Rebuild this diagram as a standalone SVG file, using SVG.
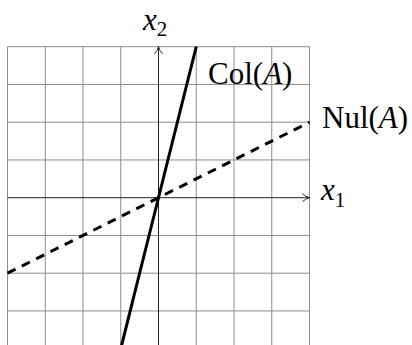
<svg xmlns="http://www.w3.org/2000/svg" width="412" height="345" viewBox="0 0 412 345">
<style>
.grid line{stroke:#8c8c8c;stroke-width:1}
.axis{stroke:#222;stroke-width:1;fill:none}
.lbl{font-family:"Liberation Serif",serif;fill:#000}
.it{font-style:italic}
</style>
<defs>
<marker id="tip" viewBox="0 0 10 10" refX="9" refY="5" markerWidth="10" markerHeight="10" markerUnits="userSpaceOnUse" orient="auto">
<path d="M2,1 Q5,4 9,5 Q5,6 2,9" fill="none" stroke="#222" stroke-width="1"/>
</marker>
</defs>
<rect width="412" height="345" fill="#fff"/>
<g id="grid" class="grid">
<line x1="7.5" y1="46.7" x2="7.5" y2="345"/>
<line x1="45.25" y1="46.7" x2="45.25" y2="345"/>
<line x1="83" y1="46.7" x2="83" y2="345"/>
<line x1="120.75" y1="46.7" x2="120.75" y2="345"/>
<line x1="196.25" y1="46.7" x2="196.25" y2="345"/>
<line x1="234" y1="46.7" x2="234" y2="345"/>
<line x1="271.75" y1="46.7" x2="271.75" y2="345"/>
<line x1="309.5" y1="46.7" x2="309.5" y2="345"/>
<line x1="7.5" y1="46.7" x2="309.5" y2="46.7"/>
<line x1="7.5" y1="84.45" x2="309.5" y2="84.45"/>
<line x1="7.5" y1="122.2" x2="309.5" y2="122.2"/>
<line x1="7.5" y1="159.95" x2="309.5" y2="159.95"/>
<line x1="7.5" y1="235.45" x2="309.5" y2="235.45"/>
<line x1="7.5" y1="273.2" x2="309.5" y2="273.2"/>
<line x1="7.5" y1="310.95" x2="309.5" y2="310.95"/>
</g>
<g id="connectors">
<line id="x1-axis" class="axis" x1="7.5" y1="197.7" x2="309.5" y2="197.7" marker-end="url(#tip)"/>
<line id="x2-axis" class="axis" x1="158.5" y1="345" x2="158.5" y2="46.7" marker-end="url(#tip)"/>
<line id="col-line" x1="120.75" y1="348.7" x2="196.25" y2="46.7" stroke="#000" stroke-width="3"/>
<line id="nul-line" x1="7.5" y1="273.2" x2="309.5" y2="122.2" stroke="#000" stroke-width="3" stroke-dasharray="9 7"/>
</g>
<g id="label-x2">
<text class="lbl" x="143" y="30" font-size="31"><tspan class="it">x</tspan><tspan font-size="21" dy="6">2</tspan></text>
</g>
<g id="label-x1">
<text class="lbl" x="321" y="200" font-size="31"><tspan class="it">x</tspan><tspan font-size="21" dy="7">1</tspan></text>
</g>
<g id="label-col">
<text class="lbl" x="208" y="84" font-size="31">Col(<tspan class="it">A</tspan>)</text>
</g>
<g id="label-nul">
<text class="lbl" x="322" y="128" font-size="31">Nul(<tspan class="it">A</tspan>)</text>
</g>
</svg>
